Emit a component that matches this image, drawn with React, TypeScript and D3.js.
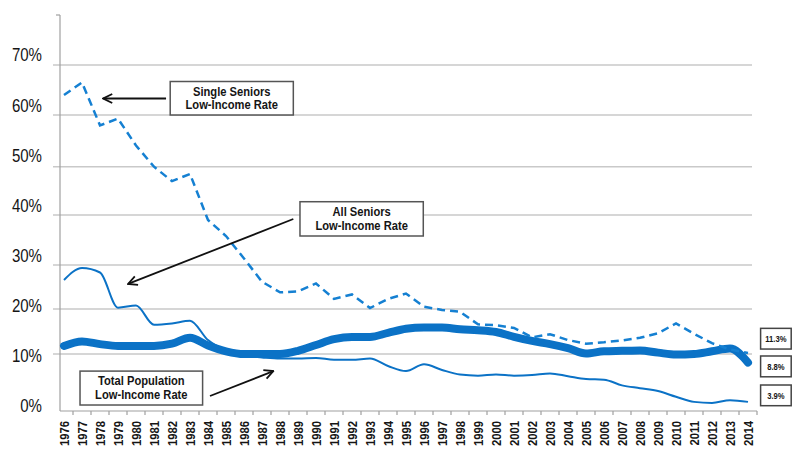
import { useRef, useEffect } from "react";
import * as d3 from "d3";

const WIDTH = 801;
const HEIGHT = 459;
const FONT = "'Liberation Sans', Arial, sans-serif";
const BLUE = "#0b72c6";

const years = [
  1976, 1977, 1978, 1979, 1980, 1981, 1982, 1983, 1984, 1985, 1986, 1987, 1988,
  1989, 1990, 1991, 1992, 1993, 1994, 1995, 1996, 1997, 1998, 1999, 2000, 2001,
  2002, 2003, 2004, 2005, 2006, 2007, 2008, 2009, 2010, 2011, 2012, 2013, 2014,
];

// Single seniors (dashed)
const singleSeniors = [
  64.0, 66.5, 58.0, 59.3, 54.1, 50.0, 47.0, 48.5, 39.0, 35.8, 31.3, 26.2, 23.8,
  24.0, 25.8, 22.3, 23.3, 20.2, 22.3, 23.5, 20.5, 19.8, 19.4, 16.6, 16.4, 15.8,
  13.7, 14.4, 13.1, 12.3, 12.6, 13.0, 13.6, 14.6, 16.8, 14.5, 12.4, 11.0, 10.2,
];

// All seniors (thin)
const allSeniors = [
  26.6, 29.3, 28.3, 20.3, 20.8, 16.5, 16.8, 17.4, 13.1, 10.8, 9.7, 9.4, 9.2,
  9.2, 9.3, 9.0, 9.0, 9.2, 7.9, 7.0, 8.2, 7.2, 6.4, 6.2, 6.4, 6.2,
  6.3, 6.6, 6.1, 5.6, 5.5, 4.5, 4.0, 3.5, 2.5, 1.6, 1.4, 1.9, 1.6,
];

// Total population (thick)
const totalPopulation = [
  11.8, 12.8, 12.2, 11.8, 11.8, 11.8, 12.3, 13.6, 11.9, 10.6, 10.0, 10.0, 10.0,
  10.7, 12.0, 13.3, 13.8, 13.8, 14.7, 15.6, 15.9, 15.9, 15.5, 15.3, 14.9, 13.8,
  12.9, 12.2, 11.3, 10.1, 10.6, 10.7, 10.8, 10.3, 9.9, 10.0, 10.6, 11.2, 8.5,
];

const yTicks = [0, 10, 20, 30, 40, 50, 60, 70];
const endLabels = ["11.3%", "8.8%", "3.9%"];

// the source chart's gridlines are not evenly spaced
const Y_STOPS = [411, 354, 309, 265, 215, 166.7, 115, 65];

type Callout = {
  lines: string[];
  box: [number, number, number, number]; // year0, year1, top value, bottom value
  from: [number, number];
  to: [number, number];
};

const callouts: Callout[] = [
  { lines: ["Single Seniors", "Low-Income Rate"], box: [1981.9, 1988.74, 66.7, 60], from: [1981.67, 63.3], to: [1978.18, 63.3] },
  { lines: ["All Seniors", "Low-Income Rate"], box: [1989.11, 1995.96, 42.75, 35.8], from: [1988.74, 39.2], to: [1979.56, 25.7] },
  { lines: ["Total Population", "Low-Income Rate"], box: [1976.89, 1983.7, 7.0, 1.05], from: [1984.11, 2.63], to: [1987.63, 7.0] },
];

const endBoxes: [number, number][] = [
  [15.7, 11.1],
  [9.65, 6.0],
  [4.56, 0.93],
];

type Sel = d3.Selection<SVGSVGElement, unknown, null, undefined>;

// condensed text: the original uses a narrow grotesque
function narrowText(
  svg: Sel,
  x: number,
  y: number,
  text: string,
  size: number,
  squeeze: number,
  opts: { anchor?: string; bold?: boolean; rotate?: number } = {},
) {
  const rot = opts.rotate ? ` rotate(${opts.rotate})` : "";
  return svg.append("text")
    .attr("transform", `translate(${x},${y})${rot} scale(${squeeze},1)`)
    .attr("text-anchor", opts.anchor ?? "middle")
    .attr("dominant-baseline", "central")
    .attr("font-family", FONT)
    .attr("font-weight", opts.bold ? "bold" : "normal")
    .attr("font-size", size)
    .attr("fill", "#151515")
    .text(text);
}

export default function App() {
  const svgRef = useRef<SVGSVGElement>(null);

  useEffect(() => {
    if (!svgRef.current) return;
    const svg = d3.select(svgRef.current);
    svg.selectAll("*").remove();

    const x = d3.scaleBand<number>().domain(years).range([55, 757]);
    const xAt = (yr: number) => (x(yr) as number) + x.bandwidth() / 2;
    const xl = d3.scaleLinear().domain([1976, 2014]).range([xAt(1976), xAt(2014)]);
    const y = d3.scaleLinear().domain(yTicks).range(Y_STOPS);
    const yLabel = d3.scaleLinear().domain([0, 70]).range([406, 55]);

    const axisX = 60;
    const gridLeft = 53;
    const gridRight = xAt(2014) + 4;

    svg.append("defs")
      .append("marker")
      .attr("id", "arrow")
      .attr("viewBox", "-11 -6 12 12")
      .attr("refX", 0).attr("refY", 0)
      .attr("markerWidth", 12).attr("markerHeight", 12)
      .attr("markerUnits", "userSpaceOnUse")
      .attr("orient", "auto")
      .append("path")
      .attr("d", "M-9,-4.5 L0,0 L-9,4.5")
      .attr("fill", "none")
      .attr("stroke", "#111")
      .attr("stroke-width", 1.8);

    // Gridlines
    yTicks.filter((t) => t > 0).forEach((t) => {
      svg.append("line")
        .attr("x1", gridLeft).attr("x2", gridRight)
        .attr("y1", y(t)).attr("y2", y(t))
        .attr("stroke", "#c9c9c9").attr("stroke-width", 1.4);
    });

    // Y labels
    yTicks.forEach((t) => {
      narrowText(svg, 42, yLabel(t), `${t}%`, 17.5, 0.86, { anchor: "end" });
    });

    // Axes
    svg.append("line")
      .attr("x1", axisX).attr("x2", axisX)
      .attr("y1", y(80)).attr("y2", y(0))
      .attr("stroke", "#a0a0a0").attr("stroke-width", 1.2);
    svg.append("line")
      .attr("x1", axisX - 4).attr("x2", axisX)
      .attr("y1", y(80)).attr("y2", y(80))
      .attr("stroke", "#a0a0a0").attr("stroke-width", 1.2);
    svg.append("line")
      .attr("x1", axisX).attr("x2", 757)
      .attr("y1", y(0)).attr("y2", y(0))
      .attr("stroke", "#a0a0a0").attr("stroke-width", 1.2);

    years.forEach((yr) => {
      const right = (x(yr) as number) + x.bandwidth();
      svg.append("line")
        .attr("x1", right).attr("x2", right)
        .attr("y1", y(0)).attr("y2", y(0) + 4)
        .attr("stroke", "#a0a0a0").attr("stroke-width", 1.2);
      narrowText(svg, xAt(yr) + 0.5, y(0) + 10, String(yr), 12.8, 0.88, {
        anchor: "end",
        bold: true,
        rotate: -90,
      });
    });

    // Lines
    const smooth = d3.line<number>()
      .x((_, i) => xAt(years[i]))
      .y((d) => y(d))
      .curve(d3.curveMonotoneX);
    const straight = d3.line<number>()
      .x((_, i) => xAt(years[i]))
      .y((d) => y(d));

    svg.append("path")
      .datum(allSeniors)
      .attr("fill", "none")
      .attr("stroke", BLUE)
      .attr("stroke-width", 2)
      .attr("d", smooth);

    svg.append("path")
      .datum(totalPopulation)
      .attr("fill", "none")
      .attr("stroke", BLUE)
      .attr("stroke-width", 8)
      .attr("stroke-linecap", "round")
      .attr("stroke-linejoin", "round")
      .attr("d", smooth);

    svg.append("path")
      .datum(singleSeniors)
      .attr("fill", "none")
      .attr("stroke", "#1580d2")
      .attr("stroke-width", 2.5)
      .attr("stroke-dasharray", "8,5")
      .attr("d", straight);

    // Callouts
    callouts.forEach((c) => {
      const [a0, a1, v0, v1] = c.box;
      const bx = xl(a0), bw = xl(a1) - xl(a0);
      const by = y(v0), bh = y(v1) - y(v0);
      svg.append("line")
        .attr("x1", xl(c.from[0])).attr("y1", y(c.from[1]))
        .attr("x2", xl(c.to[0])).attr("y2", y(c.to[1]))
        .attr("stroke", "#111").attr("stroke-width", 1.8)
        .attr("marker-end", "url(#arrow)");
      svg.append("rect")
        .attr("x", bx).attr("y", by)
        .attr("width", bw).attr("height", bh)
        .attr("fill", "#fff")
        .attr("stroke", "#555").attr("stroke-width", 1.5);
      c.lines.forEach((t, i) => {
        narrowText(svg, bx + bw / 2, by + bh / 2 + (i === 0 ? -7 : 6.5), t, 13, 0.86, { bold: true });
      });
    });

    // End value boxes
    endBoxes.forEach(([v0, v1], i) => {
      const bx = xl(2014.7), bw = xl(2016.4) - xl(2014.7);
      const by = y(v0), bh = y(v1) - y(v0);
      svg.append("rect")
        .attr("x", bx).attr("y", by)
        .attr("width", bw).attr("height", bh)
        .attr("fill", "#fff")
        .attr("stroke", "#444").attr("stroke-width", 1.5);
      narrowText(svg, bx + bw / 2, by + bh / 2, endLabels[i], 9.8, 0.78, { bold: true });
    });
  }, []);

  return (
    <div style={{ position: "fixed", left: 0, top: 0, width: WIDTH, height: HEIGHT, background: "#fff" }}>
      <svg ref={svgRef} width={WIDTH} height={HEIGHT} />
    </div>
  );
}
